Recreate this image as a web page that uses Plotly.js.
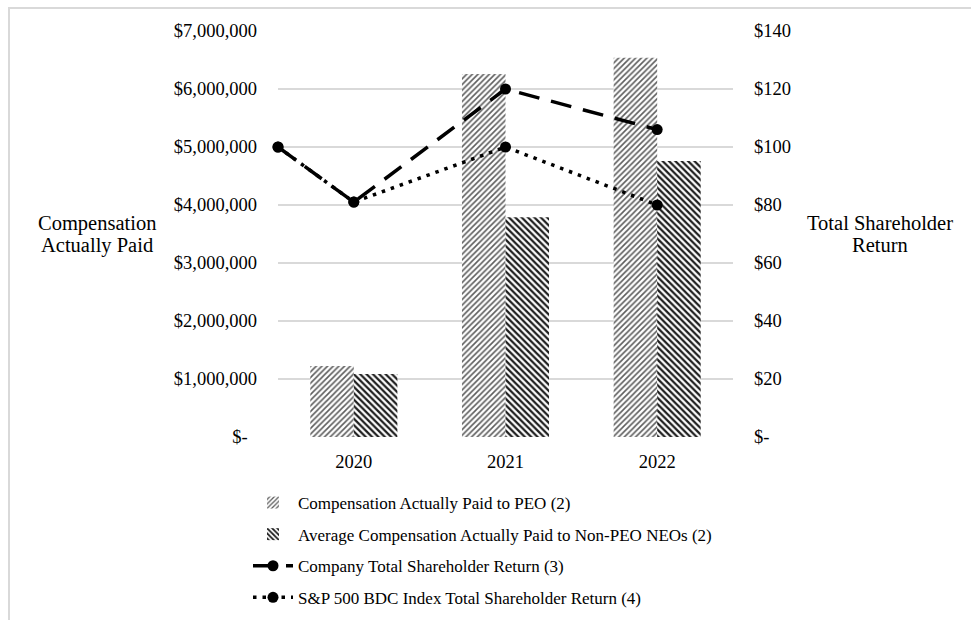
<!DOCTYPE html>
<html>
<head>
<meta charset="utf-8">
<script src="https://cdn.plot.ly/plotly-3.0.1.min.js"></script>
<style>
  html, body { margin: 0; padding: 0; background: #fff; }
  #wrap { position: relative; width: 971px; height: 620px; }
  #chart { position: absolute; left: 0; top: 0; width: 971px; height: 620px; }
  #frame { position: absolute; left: 8px; top: 7px; width: 970px; height: 620px;
           border-top: 2px solid #d9d9d9; border-left: 2px solid #d9d9d9; pointer-events: none; }
</style>
</head>
<body>
<div id="wrap">
  <div id="chart"></div>
  <div id="frame"></div>
</div>
<script>
// ---- data ----
const years = [2020, 2021, 2022];
const peoCap = [1224000, 6260000, 6540000];
const nonPeoCap = [1086000, 3790000, 4760000];
const tsrX = [2019.5, 2020, 2021, 2022];
const companyTsr = [100, 81, 120, 106];
const bdcTsr = [100, 81, 100, 80];
const leftTickVals = [0, 1000000, 2000000, 3000000, 4000000, 5000000, 6000000, 7000000];
const leftTickText = ['$-\u00a0\u00a0', '$1,000,000', '$2,000,000', '$3,000,000', '$4,000,000', '$5,000,000', '$6,000,000', '$7,000,000'];
const rightTickVals = [0, 20, 40, 60, 80, 100, 120, 140];
const rightTickText = ['$-', '$20', '$40', '$60', '$80', '$100', '$120', '$140'];
const names = [
  'Compensation Actually Paid to PEO (2)',
  'Average Compensation Actually Paid to Non-PEO NEOs (2)',
  'Company Total Shareholder Return (3)',
  'S&P 500 BDC Index Total Shareholder Return (4)'
];
const leftTitle = ['Compensation', 'Actually Paid'];
const rightTitle = ['Total Shareholder', 'Return'];

const FONT = 'Liberation Serif, Times New Roman, serif';

const traces = [
  {
    type: 'bar', x: years, y: peoCap, name: names[0], legendgroup: 'a',
    width: 0.287, offset: -0.287,
    marker: { color: '#ffffff', line: { width: 0 },
      pattern: { shape: '/', fgcolor: '#5e5e5e', bgcolor: '#ffffff', size: 4, solidity: 0.4 } },
    hoverinfo: 'skip'
  },
  {
    type: 'bar', x: years, y: nonPeoCap, name: names[1], legendgroup: 'b',
    width: 0.287, offset: 0,
    marker: { color: '#ffffff', line: { width: 0 },
      pattern: { shape: '\\', fgcolor: '#1e1e1e', bgcolor: '#ffffff', size: 4.5, solidity: 0.5 } },
    hoverinfo: 'skip'
  },
  {
    type: 'scatter', mode: 'lines+markers', x: tsrX, y: companyTsr, name: names[2], legendgroup: 'c',
    yaxis: 'y2', cliponaxis: false,
    line: { color: '#000', width: 3.5, dash: '21px,12px' },
    marker: { color: '#000', size: 11, symbol: 'circle' },
    hoverinfo: 'skip'
  },
  {
    type: 'scatter', mode: 'lines+markers', x: tsrX, y: bdcTsr, name: names[3], legendgroup: 'd',
    yaxis: 'y2', cliponaxis: false,
    line: { color: '#000', width: 3.5, dash: '3.5px,6px' },
    marker: { color: '#000', size: 11, symbol: 'circle' },
    hoverinfo: 'skip'
  }
];

function titleAnn(text, xpx, ypx) {
  return { text: text, xref: 'paper', yref: 'paper',
    x: (xpx - 278) / 455, y: (437 - ypx) / 406, xanchor: 'center', yanchor: 'middle',
    showarrow: false, font: { family: FONT, size: 20.5, color: '#000' } };
}

const layout = {
  width: 971, height: 620,
  margin: { l: 278, r: 238, t: 31, b: 183, pad: 0 },
  paper_bgcolor: 'rgba(0,0,0,0)', plot_bgcolor: 'rgba(0,0,0,0)',
  font: { family: FONT, color: '#000', size: 18.5 },
  barmode: 'overlay',
  showlegend: true,
  legend: {
    xref: 'paper', yref: 'container',
    x: (248 - 278) / 455, xanchor: 'left', y: 1 - 485 / 620, yanchor: 'top',
    orientation: 'v', font: { family: FONT, size: 17, color: '#000' },
    tracegroupgap: 6.5, bgcolor: 'rgba(0,0,0,0)', itemwidth: 40
  },
  xaxis: {
    range: [2019.5, 2022.5], tickvals: years, ticktext: years.map(String),
    showgrid: false, zeroline: false, showline: false, ticks: '',
    tickfont: { family: FONT, size: 18.5 }, ticklabelstandoff: 11
  },
  yaxis: {
    range: [0, 7000000], tickvals: leftTickVals, ticktext: leftTickText,
    showgrid: true, gridcolor: '#d9d9d9', gridwidth: 1.5, zeroline: false, showline: false, ticks: '',
    tickfont: { family: FONT, size: 18.5 }, ticklabelstandoff: 20
  },
  yaxis2: {
    overlaying: 'y', side: 'right', range: [0, 140], tickvals: rightTickVals, ticktext: rightTickText,
    showgrid: false, zeroline: false, showline: false, ticks: '',
    tickfont: { family: FONT, size: 18.5 }, ticklabelstandoff: 20
  },
  annotations: [
    titleAnn(leftTitle[0], 97, 223),
    titleAnn(leftTitle[1], 97, 245),
    titleAnn(rightTitle[0], 880, 223),
    titleAnn(rightTitle[1], 880, 245)
  ]
};

Plotly.newPlot('chart', traces, layout, { displayModeBar: false, staticPlot: true });
</script>
</body>
</html>
